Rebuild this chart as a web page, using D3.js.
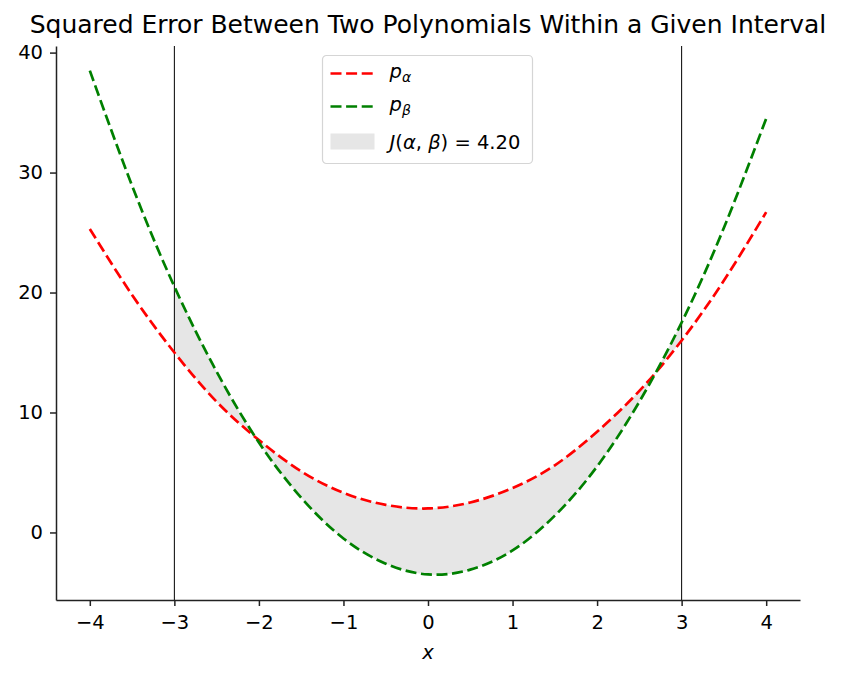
<!DOCTYPE html>
<html>
<head>
<meta charset="utf-8">
<script src="https://cdn.jsdelivr.net/npm/d3@7"></script>
<style>
  body { margin: 0; background: #fff; }
  svg { font-family: "DejaVu Sans", sans-serif; }
</style>
</head>
<body>
<svg id="chart"></svg>
<script>
const xs     = [-4, -3.5, -3, -2.5, -2, -1.5, -1, -0.5, 0, 0.5, 1, 1.5, 2, 2.5, 3, 3.5, 4];
const pAlpha = [25.3, 19.8, 15.0, 10.9, 7.7, 5.1, 3.3, 2.3, 2.0, 2.5, 3.7, 5.6, 8.4, 11.8, 16.0, 21.0, 26.7];
const pBeta  = [38.5, 28.9, 20.5, 13.4, 7.5, 2.9, -0.5, -2.6, -3.5, -3.1, -1.5, 1.4, 5.5, 10.9, 17.5, 25.4, 34.5];
const interval = [-3, 3];
const xTicks = [-4, -3, -2, -1, 0, 1, 2, 3, 4];
const yTicks = [0, 10, 20, 30, 40];
const jValue = "4.20";

const width = 842, height = 678;
const margin = {top: 46, right: 42, bottom: 78, left: 56};

const svg = d3.select('#chart').attr('width', width).attr('height', height);

const x = d3.scaleLinear().domain([-4.4, 4.4]).range([margin.left, width - margin.right]);
const y = d3.scaleLinear().domain([-5.63, 40.55]).range([height - margin.bottom, margin.top]);

const data = xs.map((v, i) => ({x: v, a: pAlpha[i], b: pBeta[i]}));
const inside = data.filter(d => d.x >= interval[0] && d.x <= interval[1]);

// shaded area between the curves on the interval
svg.append('path')
  .datum(inside)
  .attr('d', d3.area().curve(d3.curveNatural)
    .x(d => x(d.x)).y0(d => y(d.a)).y1(d => y(d.b)))
  .attr('fill', '#e6e6e6');

// interval bounds
svg.selectAll('.vline')
  .data(interval)
  .enter().append('line')
  .attr('x1', d => x(d)).attr('x2', d => x(d))
  .attr('y1', margin.top).attr('y2', height - margin.bottom)
  .attr('stroke', '#000').attr('stroke-width', 1);

const line = key => d3.line().curve(d3.curveNatural).x(d => x(d.x)).y(d => y(d[key]));

svg.append('path').datum(data).attr('d', line('a'))
  .attr('fill', 'none').attr('stroke', '#ff0000').attr('stroke-width', 2.7)
  .attr('stroke-dasharray', '11,4.6');
svg.append('path').datum(data).attr('d', line('b'))
  .attr('fill', 'none').attr('stroke', '#008000').attr('stroke-width', 2.7)
  .attr('stroke-dasharray', '11,4.6');

// axes
const fmt = d => d < 0 ? '\u2212' + Math.abs(d) : String(d);
const xAxis = svg.append('g')
  .attr('transform', `translate(0,${height - margin.bottom})`)
  .call(d3.axisBottom(x).tickValues(xTicks).tickFormat(fmt).tickSize(6).tickPadding(9).tickSizeOuter(0));
const yAxis = svg.append('g')
  .attr('transform', `translate(${margin.left},0)`)
  .call(d3.axisLeft(y).tickValues(yTicks).tickFormat(fmt).tickSize(6).tickPadding(7).tickSizeOuter(0));
[xAxis, yAxis].forEach(g => {
  g.selectAll('path, line').attr('stroke', '#222').attr('stroke-width', 1.5);
  g.selectAll('text').attr('fill', '#000').style('font-size', '19.5px').style('font-family', 'DejaVu Sans');
});

svg.append('text')
  .attr('x', (margin.left + width - margin.right) / 2).attr('y', 659)
  .attr('text-anchor', 'middle').style('font-size', '19.5px').style('font-style', 'italic')
  .text('x');

svg.append('text')
  .attr('x', (margin.left + width - margin.right) / 2).attr('y', 33)
  .attr('text-anchor', 'middle').style('font-size', '25px')
  .text('Squared Error Between Two Polynomials Within a Given Interval');

// legend
const lg = svg.append('g').attr('transform', 'translate(322.5,55.5)');
lg.append('rect').attr('width', 210).attr('height', 108).attr('rx', 4)
  .attr('fill', '#fff').attr('fill-opacity', 0.8).attr('stroke', '#d5d5d5').attr('stroke-width', 1.2);

const entries = [
  {color: '#ff0000', sym: 'p', sub: '\u03b1'},
  {color: '#008000', sym: 'p', sub: '\u03b2'}
];
entries.forEach((e, i) => {
  const yy = 18 + i * 33;
  lg.append('line').attr('x1', 8).attr('x2', 51).attr('y1', yy).attr('y2', yy)
    .attr('stroke', e.color).attr('stroke-width', 2.7).attr('stroke-dasharray', '11,4.6');
  const t = lg.append('text').attr('x', 67).attr('y', yy + 4).style('font-size', '19.5px');
  t.append('tspan').style('font-style', 'italic').text(e.sym);
  t.append('tspan').attr('dy', 4).style('font-size', '14px').style('font-style', 'italic').text(e.sub);
});
lg.append('rect').attr('x', 8).attr('y', 78).attr('width', 44).attr('height', 16).attr('fill', '#e6e6e6');
const jt = lg.append('text').attr('x', 67).attr('y', 93).style('font-size', '19.5px');
jt.append('tspan').style('font-style', 'italic').text('J');
jt.append('tspan').text('(');
jt.append('tspan').style('font-style', 'italic').text('\u03b1');
jt.append('tspan').text(', ');
jt.append('tspan').style('font-style', 'italic').text('\u03b2');
jt.append('tspan').text(') = ' + jValue);
</script>
</body>
</html>
